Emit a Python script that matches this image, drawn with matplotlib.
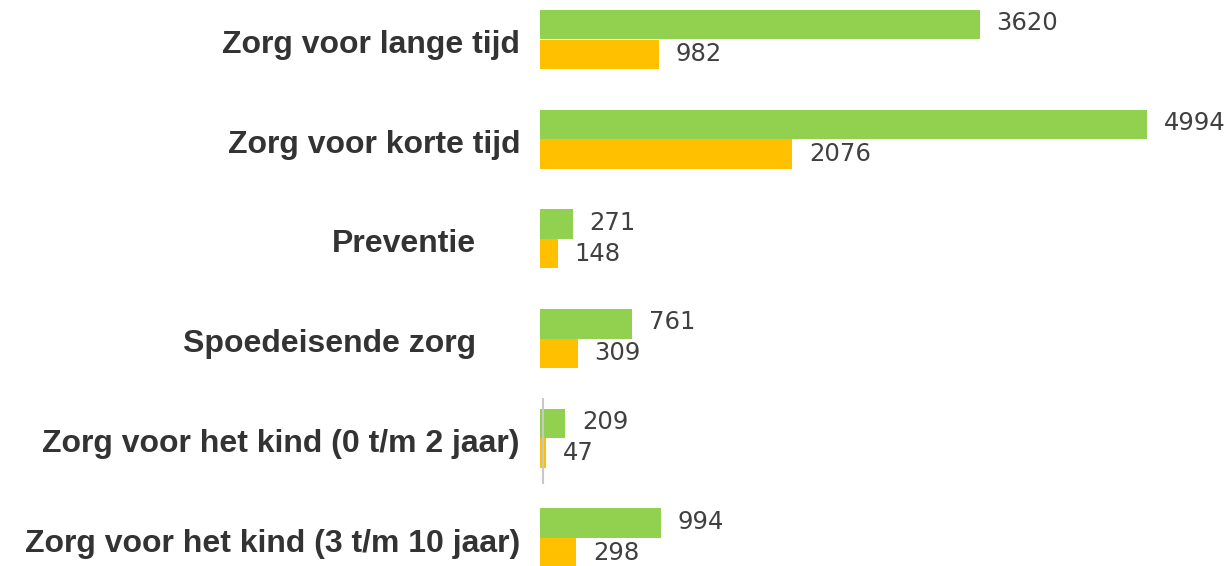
import numpy as np
import matplotlib.pyplot as plt

plt.rcParams['font.family'] = ['Liberation Sans', 'DejaVu Sans']

# data
categories = ['Zorg voor lange tijd', 'Zorg voor korte tijd', 'Preventie',
              'Spoedeisende zorg', 'Zorg voor het kind (0 t/m 2 jaar)',
              'Zorg voor het kind (3 t/m 10 jaar)']
green_vals = [3620, 4994, 271, 761, 209, 994]
orange_vals = [982, 2076, 148, 309, 47, 298]

green = '#92D050'
orange = '#FFC000'

fig = plt.figure(figsize=(12.28, 5.66), dpi=100)
ax = fig.add_axes([540 / 1228, 0, 1 - 540 / 1228, 1])

y = np.arange(len(categories))
h = 0.296
ax.barh(y - h / 2, green_vals, height=h, color=green, edgecolor='none')
ax.barh(y + h / 2, orange_vals, height=h, color=orange, edgecolor='none')

# value labels
for yi, g, o in zip(y, green_vals, orange_vals):
    ax.annotate(str(g), xy=(g, yi - h / 2), xytext=(12, 1), textcoords='offset points',
                va='center', ha='left', fontsize=17.5, color='#404040', family='DejaVu Sans')
    ax.annotate(str(o), xy=(o, yi + h / 2), xytext=(12, 0), textcoords='offset points',
                va='center', ha='left', fontsize=17.5, color='#404040', family='DejaVu Sans')

# category labels (right aligned left of the bars)
label_dx = [-20, -20, -64, -64, -20, -20]
for yi, cat, dx in zip(y, categories, label_dx):
    ax.annotate(cat, xy=(0, yi), xycoords=('data', 'data'), xytext=(dx * 0.72, -4),
                textcoords='offset points', ha='right', va='center',
                fontsize=23, fontweight='bold', color='#333333', annotation_clip=False)

# thin axis stub visible in the 0-2 jaar group
ax.vlines(25, 3.6, 4.46, color='#c8c8c8', linewidth=1.5)

ax.set_xlim(0, 5662)
ax.set_ylim((566 - 39.5) / 99.7, -39.5 / 99.7)
ax.axis('off')

fig.savefig('out.png', dpi=100)
